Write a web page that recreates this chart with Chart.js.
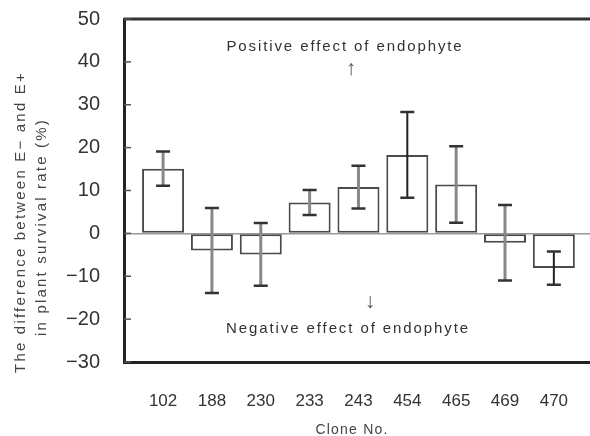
<!DOCTYPE html>
<html><head><meta charset="utf-8">
<script src="https://cdn.jsdelivr.net/npm/chart.js@4/dist/chart.umd.min.js"></script>
<style>html,body{margin:0;padding:0;background:#fff;}#wrap{width:590px;height:436px;position:relative;}</style>
</head><body><div id="wrap"><canvas id="c" width="590" height="436"></canvas></div>
<script>
const categories = ['102','188','230','233','243','454','465','469','470'];
const meanDiff = [15.1, -4.0, -4.9, 7.2, 10.8, 18.3, 11.4, -2.2, -8.1];
const errSize = [4.0, 9.9, 7.3, 2.9, 5.0, 10.0, 8.9, 8.8, 3.9];
const yTicks = [50, 40, 30, 20, 10, 0, -10, -20, -30];
const positiveLabel = 'Positive effect of endophyte';
const negativeLabel = 'Negative effect of endophyte';
const yTitle = ['The difference between E\u2212 and E+', 'in plant survival rate (%)'];
const xTitle = 'Clone No.';

const FONT = '"Liberation Sans", Arial, sans-serif';
const darkStems = [5, 8];

function spaced(ctx, px) { try { ctx.letterSpacing = px + 'px'; } catch (e) {} }

const overlay = {
  id: 'overlay',
  afterDatasetsDraw(chart) {
    const ctx = chart.ctx, x = chart.scales.x, y = chart.scales.y, a = chart.chartArea;
    ctx.save();
    // error bars
    meanDiff.forEach((m, i) => {
      const px = x.getPixelForValue(i + 1);
      const top = y.getPixelForValue(m + errSize[i]);
      const bot = y.getPixelForValue(m - errSize[i]);
      const dark = darkStems.includes(i);
      ctx.strokeStyle = dark ? '#222' : '#888';
      ctx.lineWidth = dark ? 2 : 3;
      ctx.beginPath(); ctx.moveTo(px, top); ctx.lineTo(px, bot); ctx.stroke();
      ctx.strokeStyle = '#333'; ctx.lineWidth = 2.5;
      ctx.beginPath();
      ctx.moveTo(px - 7, top); ctx.lineTo(px + 7, top);
      ctx.moveTo(px - 7, bot); ctx.lineTo(px + 7, bot);
      ctx.stroke();
    });
    // top border
    ctx.strokeStyle = '#333'; ctx.lineWidth = 3;
    ctx.beginPath(); ctx.moveTo(a.left, a.top); ctx.lineTo(590, a.top); ctx.stroke();
    // inner y tick marks
    ctx.lineWidth = 1.5; ctx.strokeStyle = '#555';
    yTicks.forEach(v => {
      const py = y.getPixelForValue(v);
      ctx.beginPath(); ctx.moveTo(a.left, py); ctx.lineTo(a.left + 7, py); ctx.stroke();
    });
    // annotations
    ctx.fillStyle = '#333';
    ctx.textAlign = 'center'; ctx.textBaseline = 'middle';
    ctx.font = '15px ' + FONT; spaced(ctx, 1.9);
    ctx.fillText(positiveLabel, 345, y.getPixelForValue(43.5));
    ctx.fillText(negativeLabel, 348, y.getPixelForValue(-22.3));
    spaced(ctx, 0);
    ctx.font = 'bold 21px ' + FONT;
    ctx.fillStyle = '#555';
    ctx.fillText('\u2191', 351, y.getPixelForValue(38.3));
    ctx.fillText('\u2193', 370, y.getPixelForValue(-16.0));
    // y title (two rotated lines)
    ctx.font = '15px ' + FONT; spaced(ctx, 2.2);
    ctx.fillStyle = '#444';
    [[21, 222, yTitle[0]], [42, 227, yTitle[1]]].forEach(([tx, ty, t]) => {
      ctx.save(); ctx.translate(tx, ty); ctx.rotate(-Math.PI / 2);
      ctx.fillText(t, 0, 0); ctx.restore();
    });
    // x title
    ctx.font = '14px ' + FONT; spaced(ctx, 1.2);
    ctx.fillText(xTitle, 352, 430);
    ctx.restore();
  }
};

new Chart(document.getElementById('c'), {
  type: 'bar',
  data: {
    datasets: [{
      data: meanDiff.map((v, i) => ({ x: i + 1, y: v })),
      backgroundColor: '#fff',
      borderColor: '#4a4a4a',
      borderWidth: 2,
      borderSkipped: false,
      barPercentage: 0.86,
      categoryPercentage: 1.0
    }]
  },
  options: {
    responsive: false,
    animation: false,
    devicePixelRatio: 1,
    layout: { padding: { top: 19, left: 0, right: 0, bottom: 0 } },
    plugins: { legend: { display: false }, tooltip: { enabled: false } },
    scales: {
      x: {
        type: 'linear',
        offset: false,
        min: 0.2,
        max: 9.74,
        afterBuildTicks(s) { s.ticks = categories.map((c, i) => ({ value: i + 1 })); },
        ticks: {
          callback: (v) => categories[Math.round(v) - 1] ?? '',
          font: { family: FONT, size: 17 },
          color: '#333',
          padding: 0,
          maxRotation: 0,
          autoSkip: false
        },
        grid: { display: true, drawOnChartArea: false, drawTicks: true, tickLength: 29, tickColor: 'rgba(0,0,0,0)' },
        border: { display: true, color: '#222', width: 3 },
        afterFit(s) { s.height = 74; }
      },
      y: {
        min: -30, max: 50,
        afterBuildTicks(s) { s.ticks = yTicks.map(v => ({ value: v })); },
        ticks: {
          font: { family: FONT, size: 20 },
          color: '#333',
          padding: 2,
          callback: (v) => String(v).replace('-', '\u2212')
        },
        grid: {
          drawTicks: true,
          tickLength: 22,
          tickColor: 'rgba(0,0,0,0)',
          color: (c) => (c.tick && c.tick.value === 0) ? '#999' : 'rgba(0,0,0,0)',
          lineWidth: 1.5
        },
        border: { display: true, color: '#222', width: 3 },
        afterFit(s) { s.width = 124; }
      }
    }
  },
  plugins: [overlay]
});
</script>
</body></html>
